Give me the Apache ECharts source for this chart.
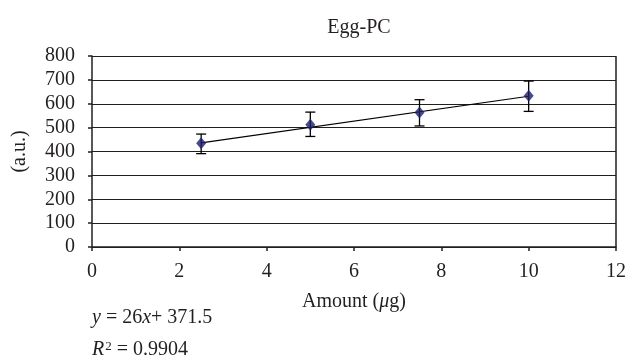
<!DOCTYPE html>
<html><head><meta charset="utf-8">
<script src="https://cdn.jsdelivr.net/npm/echarts@6/dist/echarts.min.js"></script>
<style>html,body{margin:0;padding:0;background:#fff}#c{width:629px;height:360px}</style>
</head><body><div id="c"></div>
<script>
var amounts = [2.5, 5, 7.5, 10];
var means = [435, 512, 563, 634];
var errLow = [391, 463, 507, 568];
var errHigh = [473, 565, 617, 695];
var trendX = [2.5, 10];
var trendY = [436.5, 631.5];
var xTicks = [0, 2, 4, 6, 8, 10, 12];
var yTicks = [0, 100, 200, 300, 400, 500, 600, 700, 800];

var FONT = '"Liberation Serif", "DejaVu Serif", serif';
var chart = echarts.init(document.getElementById('c'), null, {renderer: 'canvas'});
var pts = amounts.map(function (x, i) { return [x, means[i]]; });
var errs = amounts.map(function (x, i) { return [x, errLow[i], errHigh[i]]; });
var trend = trendX.map(function (x, i) { return [x, trendY[i]]; });

chart.setOption({
  animation: false,
  backgroundColor: '#fff',
  title: {
    text: 'Egg-PC', left: 354, top: 13, textAlign: 'center',
    textStyle: {fontFamily: FONT, fontSize: 20, fontWeight: 'normal', color: '#231f20'}
  },
  grid: {left: 92, right: 13, top: 56, bottom: 113, show: true, borderColor: '#231f20', borderWidth: 0},
  xAxis: {
    type: 'value', min: xTicks[0], max: xTicks[xTicks.length - 1], interval: xTicks[1] - xTicks[0],
    name: 'Amount ({i|μ}g)', nameLocation: 'middle', nameGap: 45,
    nameTextStyle: {fontFamily: FONT, fontSize: 20, color: '#231f20',
      rich: {i: {fontStyle: 'italic', fontFamily: FONT, fontSize: 20, color: '#231f20'}}},
    axisLine: {show: true, lineStyle: {color: '#231f20', width: 1.5}},
    axisTick: {show: true, length: 4, lineStyle: {color: '#231f20', width: 1.5}},
    axisLabel: {margin: 15, fontFamily: FONT, fontSize: 20, color: '#231f20'},
    splitLine: {show: false}
  },
  yAxis: {
    type: 'value', min: yTicks[0], max: yTicks[yTicks.length - 1], interval: yTicks[1] - yTicks[0],
    name: '(a.u.)', nameLocation: 'middle', nameGap: 62, nameRotate: 90,
    nameTextStyle: {fontFamily: FONT, fontSize: 20, color: '#231f20'},
    axisLine: {show: true, lineStyle: {color: '#231f20', width: 1.5}},
    axisTick: {show: true, length: 4, lineStyle: {color: '#231f20', width: 1.5}},
    axisLabel: {margin: 17, fontFamily: FONT, fontSize: 20, color: '#231f20'},
    splitLine: {show: true, lineStyle: {color: '#231f20', width: 1.2}}
  },
  graphic: [
    {type: 'line', shape: {x1: 616, y1: 56, x2: 616, y2: 247}, style: {stroke: '#231f20', lineWidth: 1.5}, z: 10},
    {type: 'text', left: 92, top: 308, style: {
      text: '{i|y} = 26{i|x}+ 371.5', fontFamily: FONT, fontSize: 20, fill: '#231f20',
      rich: {i: {fontStyle: 'italic', fontFamily: FONT, fontSize: 20}}}},
    {type: 'text', left: 92, top: 340, style: {
      text: '{i|R}{s|2}{n| = 0.9904}', fontFamily: FONT, fontSize: 20, fill: '#231f20',
      rich: {i: {fontStyle: 'italic', fontFamily: FONT, fontSize: 20, verticalAlign: 'bottom'},
             n: {fontFamily: FONT, fontSize: 20, verticalAlign: 'bottom'},
             s: {fontFamily: FONT, fontSize: 13, verticalAlign: 'top', padding: [0, 0, 0, 1]}}}}
  ],
  series: [
    {
      type: 'line', data: trend, symbol: 'none',
      lineStyle: {color: '#000', width: 1.2}, z: 2
    },
    {
      type: 'custom', data: errs, z: 3,
      renderItem: function (params, api) {
        var x = api.value(0);
        var lo = api.coord([x, api.value(1)]);
        var hi = api.coord([x, api.value(2)]);
        var w = 5;
        var st = {stroke: '#000', lineWidth: 1.3};
        return {type: 'group', children: [
          {type: 'line', shape: {x1: lo[0], y1: lo[1], x2: hi[0], y2: hi[1]}, style: st},
          {type: 'line', shape: {x1: lo[0] - w, y1: lo[1], x2: lo[0] + w, y2: lo[1]}, style: st},
          {type: 'line', shape: {x1: hi[0] - w, y1: hi[1], x2: hi[0] + w, y2: hi[1]}, style: st}
        ]};
      }
    },
    {
      type: 'scatter', data: pts, symbol: 'diamond', symbolSize: [10, 12],
      itemStyle: {color: '#1d1d6b'}, z: 4
    }
  ]
});
</script></body></html>
